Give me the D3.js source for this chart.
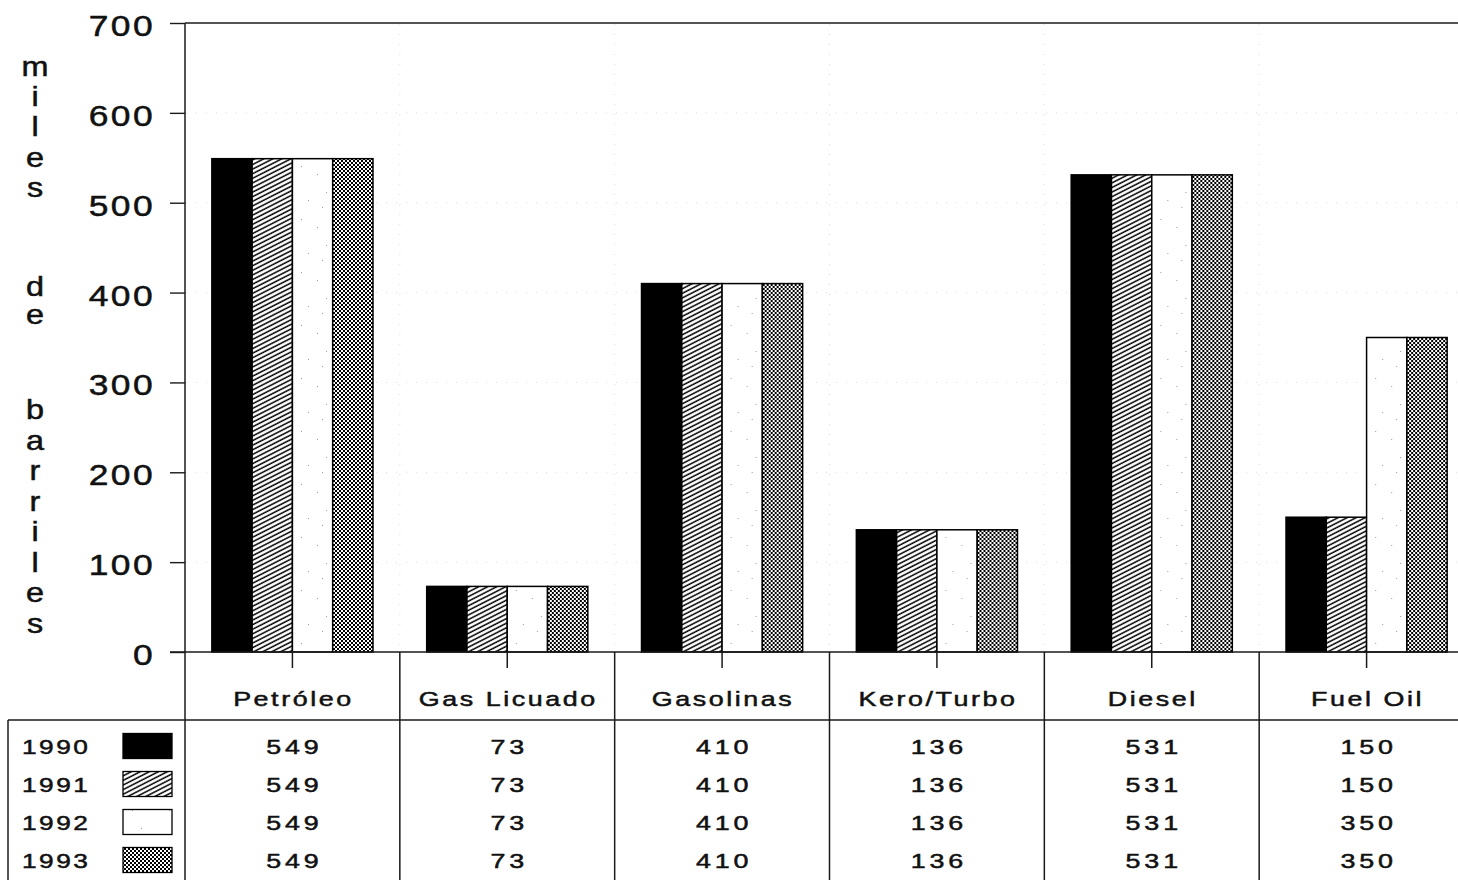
<!DOCTYPE html>
<html><head><meta charset="utf-8">
<script src="https://cdn.jsdelivr.net/npm/d3@7"></script>
<style>
html,body{margin:0;padding:0;background:#fff;}
svg{display:block;}
text{font-family:"Liberation Sans",Arial,Helvetica,sans-serif;fill:#111;stroke:#111;stroke-width:0.5px;}
</style></head>
<body>
<svg id="chart" width="1458" height="880"></svg>
<script>
// ---- data ----
const categories = ["Petróleo","Gas Licuado","Gasolinas","Kero/Turbo","Diesel","Fuel Oil"];
const years = ["1990","1991","1992","1993"];
const v1990 = [549,73,410,136,531,150];
const v1991 = [549,73,410,136,531,150];
const v1992 = [549,73,410,136,531,350];
const v1993 = [549,73,410,136,531,350];
const yTicks = [0,100,200,300,400,500,600,700];
const yTitleWords = ["miles","de","barriles"];

const seriesValues = {"1990":v1990,"1991":v1991,"1992":v1992,"1993":v1993};
const fills = {"1990":"#000","1991":"url(#hatch)","1992":"url(#specks)","1993":"url(#checker)"};

const svg = d3.select("#chart");
const ink = "#1a1a1a";

// ---- patterns ----
const defs = svg.append("defs");
const h = defs.append("pattern").attr("id","hatch").attr("patternUnits","userSpaceOnUse")
  .attr("width",4.1).attr("height",10).attr("patternTransform","rotate(63)");
h.append("rect").attr("width",4.1).attr("height",10).attr("fill","#fff");
h.append("line").attr("x1",1).attr("x2",1).attr("y1",0).attr("y2",10).attr("stroke","#000").attr("stroke-width",1.5);
const c = defs.append("pattern").attr("id","checker").attr("patternUnits","userSpaceOnUse")
  .attr("width",4).attr("height",4);
c.append("rect").attr("width",4).attr("height",4).attr("fill","#fff");
c.append("rect").attr("x",0).attr("y",0).attr("width",2).attr("height",2).attr("fill","#000");
c.append("rect").attr("x",2).attr("y",2).attr("width",2).attr("height",2).attr("fill","#000");
const s = defs.append("pattern").attr("id","specks").attr("patternUnits","userSpaceOnUse")
  .attr("width",37).attr("height",53);
s.append("rect").attr("width",37).attr("height",53).attr("fill","#fff");
[[5,7],[21,15],[30,33],[12,41],[26,48]].forEach(p=>
  s.append("rect").attr("x",p[0]).attr("y",p[1]).attr("width",1).attr("height",1).attr("fill","#999"));

// ---- scales ----
const y = d3.scaleLinear().domain([0,700]).range([652,23]);
const x0 = d3.scaleBand().domain(categories).range([185,1474]).padding(0);
const bw = x0.bandwidth();
const x1 = d3.scaleBand().domain(years).range([bw*0.125, bw*0.875]).padding(0);
const rowY = d3.scaleBand().domain(years).range([727,879]);

// helper: horizontally widened text
function wtext(g, x, yy, str, size, anchor, sx, ls){
  return g.append("text")
    .attr("transform",`translate(${x},${yy}) scale(${sx},1)`)
    .attr("text-anchor",anchor)
    .style("font-size",size+"px")
    .style("letter-spacing",ls+"px")
    .text(str);
}

// ---- faint grid ----
const grid = svg.append("g").attr("stroke","#dcdcdc").attr("stroke-width",1).attr("stroke-dasharray","1,9");
grid.selectAll("line.h").data(yTicks.filter(t=>t>0 && t<700)).join("line")
  .attr("x1",186).attr("x2",1458).attr("y1",d=>y(d)).attr("y2",d=>y(d));
grid.selectAll("line.v").data(categories.slice(1)).join("line")
  .attr("x1",d=>x0(d)).attr("x2",d=>x0(d)).attr("y1",24).attr("y2",651);

// ---- bars ----
const groups = svg.append("g").selectAll("g").data(categories).join("g")
  .attr("transform",d=>`translate(${x0(d)},0)`);
groups.selectAll("rect").data((d,i)=>years.map(yr=>({yr, v:seriesValues[yr][i]}))).join("rect")
  .attr("x",d=>x1(d.yr)).attr("width",x1.bandwidth())
  .attr("y",d=>y(d.v)).attr("height",d=>y(0)-y(d.v))
  .attr("fill",d=>fills[d.yr]).attr("stroke","#000").attr("stroke-width",1.5);

// ---- y axis ----
const yAxis = svg.append("g").attr("transform","translate(185,0)")
  .call(d3.axisLeft(y).tickValues(yTicks).tickSize(15).tickPadding(0).tickFormat(d3.format("d")));
yAxis.select(".domain").remove();
yAxis.selectAll(".tick line").attr("stroke",ink).attr("stroke-width",1.4);
yAxis.selectAll(".tick text").attr("x",null).attr("dy",null)
  .attr("transform","translate(-30,12.5) scale(1.2,1)")
  .attr("text-anchor","end")
  .style("font-size","29.5px").style("letter-spacing","2px").attr("fill","#111");

// ---- frame lines ----
const L = svg.append("g").attr("stroke",ink).attr("stroke-width",1.5);
L.append("line").attr("x1",185).attr("x2",1458).attr("y1",y(700)).attr("y2",y(700));
L.append("line").attr("x1",185).attr("x2",185).attr("y1",y(700)).attr("y2",880);
L.append("line").attr("x1",170).attr("x2",1458).attr("y1",y(0)).attr("y2",y(0));
L.append("line").attr("x1",8).attr("x2",1458).attr("y1",720).attr("y2",720);
L.append("line").attr("x1",8).attr("x2",8).attr("y1",720).attr("y2",880);
L.selectAll("line.sep").data(categories.slice(1)).join("line")
  .attr("x1",d=>x0(d)).attr("x2",d=>x0(d)).attr("y1",y(0)).attr("y2",880);
L.selectAll("line.ct").data(categories).join("line")
  .attr("x1",d=>x0(d)+bw/2).attr("x2",d=>x0(d)+bw/2).attr("y1",y(0)).attr("y2",y(0)+16);

// ---- category labels ----
const T = svg.append("g");
categories.forEach(cat=>wtext(T, x0(cat)+bw/2+1, 706, cat, 21, "middle", 1.28, 2));

// ---- table ----
years.forEach(yr=>{
  const cy = rowY(yr)+rowY.bandwidth()/2;
  wtext(T, 22, cy+8, yr, 21, "start", 1.25, 2);
  T.append("rect").attr("x",123).attr("y",cy-12.5).attr("width",49).attr("height",25)
    .attr("fill",fills[yr]).attr("stroke","#000").attr("stroke-width",1.3);
  categories.forEach((cat,i)=>{
    wtext(T, x0(cat)+bw/2+2, cy+8, String(seriesValues[yr][i]), 21, "middle", 1.28, 3);
  });
});

// ---- y title (stacked letters) ----
const yStarts = [76, 296, 419];
const ySteps = [30.2, 28, 30.5];
yTitleWords.forEach((w,wi)=>{
  [...w].forEach((ch,k)=>{
    wtext(T, 35, yStarts[wi]+k*ySteps[wi], ch, 27, "middle", 1.2, 0);
  });
});
</script>
</body></html>
